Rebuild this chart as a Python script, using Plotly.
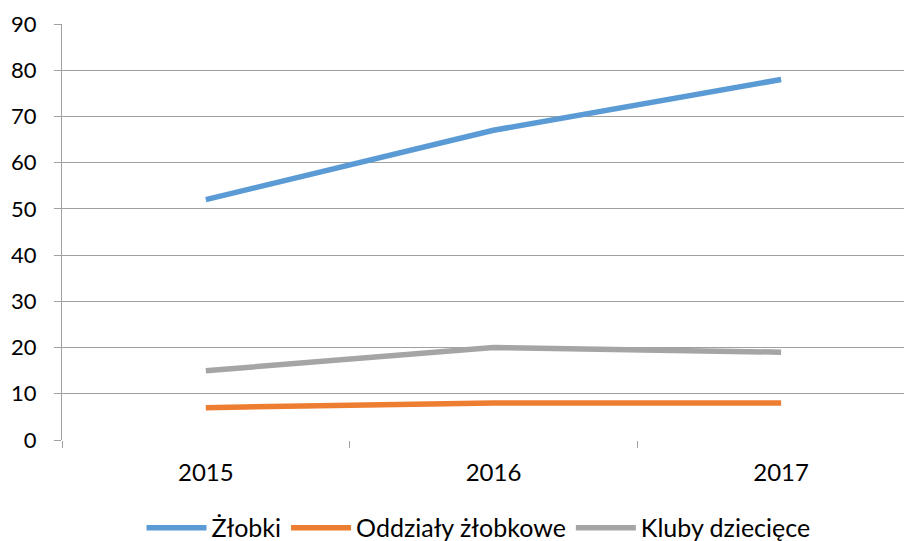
import plotly.graph_objects as go

years = ["2015", "2016", "2017"]
zlobki = [52, 67, 78]
oddzialy = [7, 8, 8]
kluby = [15, 20, 19]

names = ["Żłobki", "Oddziały żłobkowe", "Kluby dziecięce"]
colors = ["#5B9BD5", "#ED7D31", "#A5A5A5"]

fig = go.Figure()
for name, vals, col in zip(names, [zlobki, oddzialy, kluby], colors):
    fig.add_trace(go.Scatter(x=years, y=vals, name=name, mode="lines",
                             line=dict(color=col, width=5.5)))

fig.update_layout(
    width=904, height=533,
    margin=dict(l=54, r=0, t=16, b=101, autoexpand=False),
    paper_bgcolor="white", plot_bgcolor="white",
    font=dict(family="Lato, Open Sans, sans-serif", size=24, color="black"),
    showlegend=True,
    legend=dict(orientation="h", x=0.49, xanchor="center", y=-0.2115, yanchor="middle",
                font=dict(size=25), itemwidth=60),
    xaxis=dict(type="category", range=[-0.5, 2.455], tickson="boundaries",
               ticks="outside", ticklen=7, tickcolor="#A0A0A0", automargin=False,
               showgrid=False, showline=False, zeroline=False, ticklabelstandoff=16),
    yaxis=dict(range=[0, 90], dtick=10, tick0=0, ticks="outside", ticklen=7,
               tickcolor="#A0A0A0", showgrid=True, gridcolor="#A0A0A0", gridwidth=1,
               showline=True, linecolor="#A0A0A0", linewidth=1, zeroline=False,
               automargin=False, ticklabelstandoff=13, tickfont=dict(size=22)),
)
fig.write_html("out.html")
